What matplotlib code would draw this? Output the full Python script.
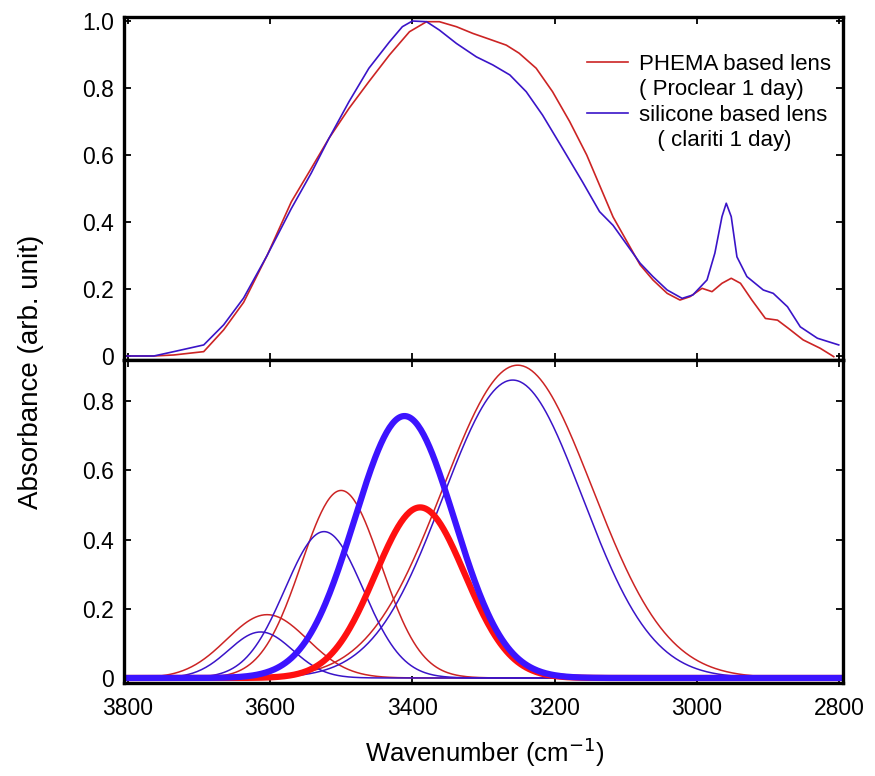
import numpy as np
import matplotlib
matplotlib.use('Agg')
import matplotlib.pyplot as plt
from matplotlib.lines import Line2D
from matplotlib.ticker import FuncFormatter

plt.rcParams['font.family'] = ['Liberation Sans', 'Noto Sans CJK JP', 'DejaVu Sans']

# --- measured spectra (top panel) ---
wn_phema = [3803, 3763, 3735, 3693, 3665, 3637, 3604, 3570, 3542, 3517, 3489, 3461,
            3432, 3404, 3380, 3362, 3338, 3315, 3292, 3268, 3250, 3226, 3203, 3179,
            3155, 3127, 3118, 3080, 3062, 3042, 3024, 3010, 2993, 2979, 2965, 2952,
            2939, 2923, 2904, 2887, 2872, 2851, 2827, 2808]
abs_phema = [0.0, 0.0, 0.003, 0.013, 0.078, 0.16, 0.30, 0.46, 0.56, 0.65, 0.739, 0.819,
             0.899, 0.968, 0.998, 0.998, 0.983, 0.963, 0.946, 0.928, 0.904, 0.859, 0.789, 0.70,
             0.60, 0.46, 0.415, 0.272, 0.227, 0.187, 0.167, 0.177, 0.202, 0.192, 0.217, 0.232,
             0.217, 0.167, 0.112, 0.107, 0.083, 0.048, 0.023, -0.002]

wn_sil = [3803, 3763, 3735, 3693, 3665, 3637, 3604, 3570, 3542, 3517, 3489, 3461,
          3432, 3414, 3400, 3380, 3362, 3338, 3310, 3287, 3263, 3240, 3217, 3189,
          3161, 3137, 3118, 3080, 3062, 3042, 3021, 3006, 2986, 2975, 2965, 2959,
          2952, 2944, 2930, 2907, 2893, 2873, 2855, 2831, 2801]
abs_sil = [0.0, 0.0, 0.013, 0.033, 0.093, 0.173, 0.30, 0.44, 0.546, 0.65, 0.759, 0.859,
           0.938, 0.983, 1.0, 0.998, 0.973, 0.933, 0.893, 0.869, 0.839, 0.789, 0.719, 0.62,
           0.52, 0.431, 0.39, 0.277, 0.237, 0.197, 0.172, 0.182, 0.227, 0.307, 0.416, 0.456,
           0.416, 0.296, 0.237, 0.197, 0.187, 0.147, 0.087, 0.053, 0.033]

# --- fitted gaussian components (bottom panel): center, height, sigma ---
phema_center = [3604, 3500, 3252]
phema_height = [0.183, 0.542, 0.904]
phema_sigma = [57, 56, 105]
sil_center = [3613, 3524, 3259]
sil_height = [0.133, 0.423, 0.861]
sil_sigma = [45, 55, 98]
# highlighted component
phema_bw = [3389, 0.493, 63]
sil_bw = [3411, 0.757, 70]

red_thin = '#cc2424'
blue_thin = '#3a14c8'
red_thick = '#ff1010'
blue_thick = '#3c14ff'


def gauss(x, c, h, s):
    return h * np.exp(-0.5 * ((x - c) / s) ** 2)


fig = plt.figure(figsize=(8.75, 7.76), dpi=100)
left, right = 124 / 875, 843 / 875
ax1 = fig.add_axes([left, 1 - 360 / 776, right - left, 343 / 776])
ax2 = fig.add_axes([left, 1 - 683 / 776, right - left, 323 / 776], sharex=ax1)

ax1.plot(wn_phema, abs_phema, color=red_thin, lw=1.2)
ax1.plot(wn_sil, abs_sil, color=blue_thin, lw=1.2)

x = np.linspace(3800, 2800, 501)
for c, h, s in zip(phema_center, phema_height, phema_sigma):
    ax2.plot(x, gauss(x, c, h, s), color=red_thin, lw=1.1)
for c, h, s in zip(sil_center, sil_height, sil_sigma):
    ax2.plot(x, gauss(x, c, h, s), color=blue_thin, lw=1.1)
ax2.plot(x, gauss(x, *phema_bw), color=red_thick, lw=4.5)
ax2.plot(x, gauss(x, *sil_bw), color=blue_thick, lw=4.5)

fmt = FuncFormatter(lambda v, p: '0' if abs(v) < 1e-9 else '%.1f' % v)
for ax in (ax1, ax2):
    ax.set_xlim(3805, 2795)
    ax.tick_params(direction='in', top=True, right=True, length=5, width=1.3,
                   labelsize=16.5)
    ax.tick_params(axis='x', pad=10)
    ax.tick_params(axis='y', pad=7)
    ax.yaxis.set_major_formatter(fmt)
    for sp in ax.spines.values():
        sp.set_linewidth(2.4)
ax1.set_xticks([3800, 3600, 3400, 3200, 3000, 2800])
ax1.tick_params(labelbottom=False)
ax1.set_ylim(-0.012, 1.012)
ax1.set_yticks([0, 0.2, 0.4, 0.6, 0.8, 1.0])
ax2.set_ylim(-0.0145, 0.919)
ax2.set_yticks([0, 0.2, 0.4, 0.6, 0.8])

# legend: handle on the first line of each two-line label
blank = Line2D([], [], color='none')
handles = [Line2D([], [], color=red_thin, lw=1.2), blank,
           Line2D([], [], color=blue_thin, lw=1.2), blank]
labels = ['PHEMA based lens', '( Proclear 1 day)',
          'silicone based lens', '   ( clariti 1 day)']
ax1.legend(handles, labels, loc='upper left', bbox_to_anchor=(0.644, 0.893),
           frameon=False, fontsize=16, handlelength=1.85, handletextpad=0.5,
           labelspacing=0.2, borderpad=0, borderaxespad=0)

fig.text(0.554, 0.031, 'Wavenumber (cm$^{-1}$)', ha='center', va='center', fontsize=18.5)
fig.text(0.035, 1 - 372 / 776, 'Absorbance (arb. unit)', ha='center', va='center',
         rotation=90, fontsize=20)

fig.savefig('out.png', dpi=100)
